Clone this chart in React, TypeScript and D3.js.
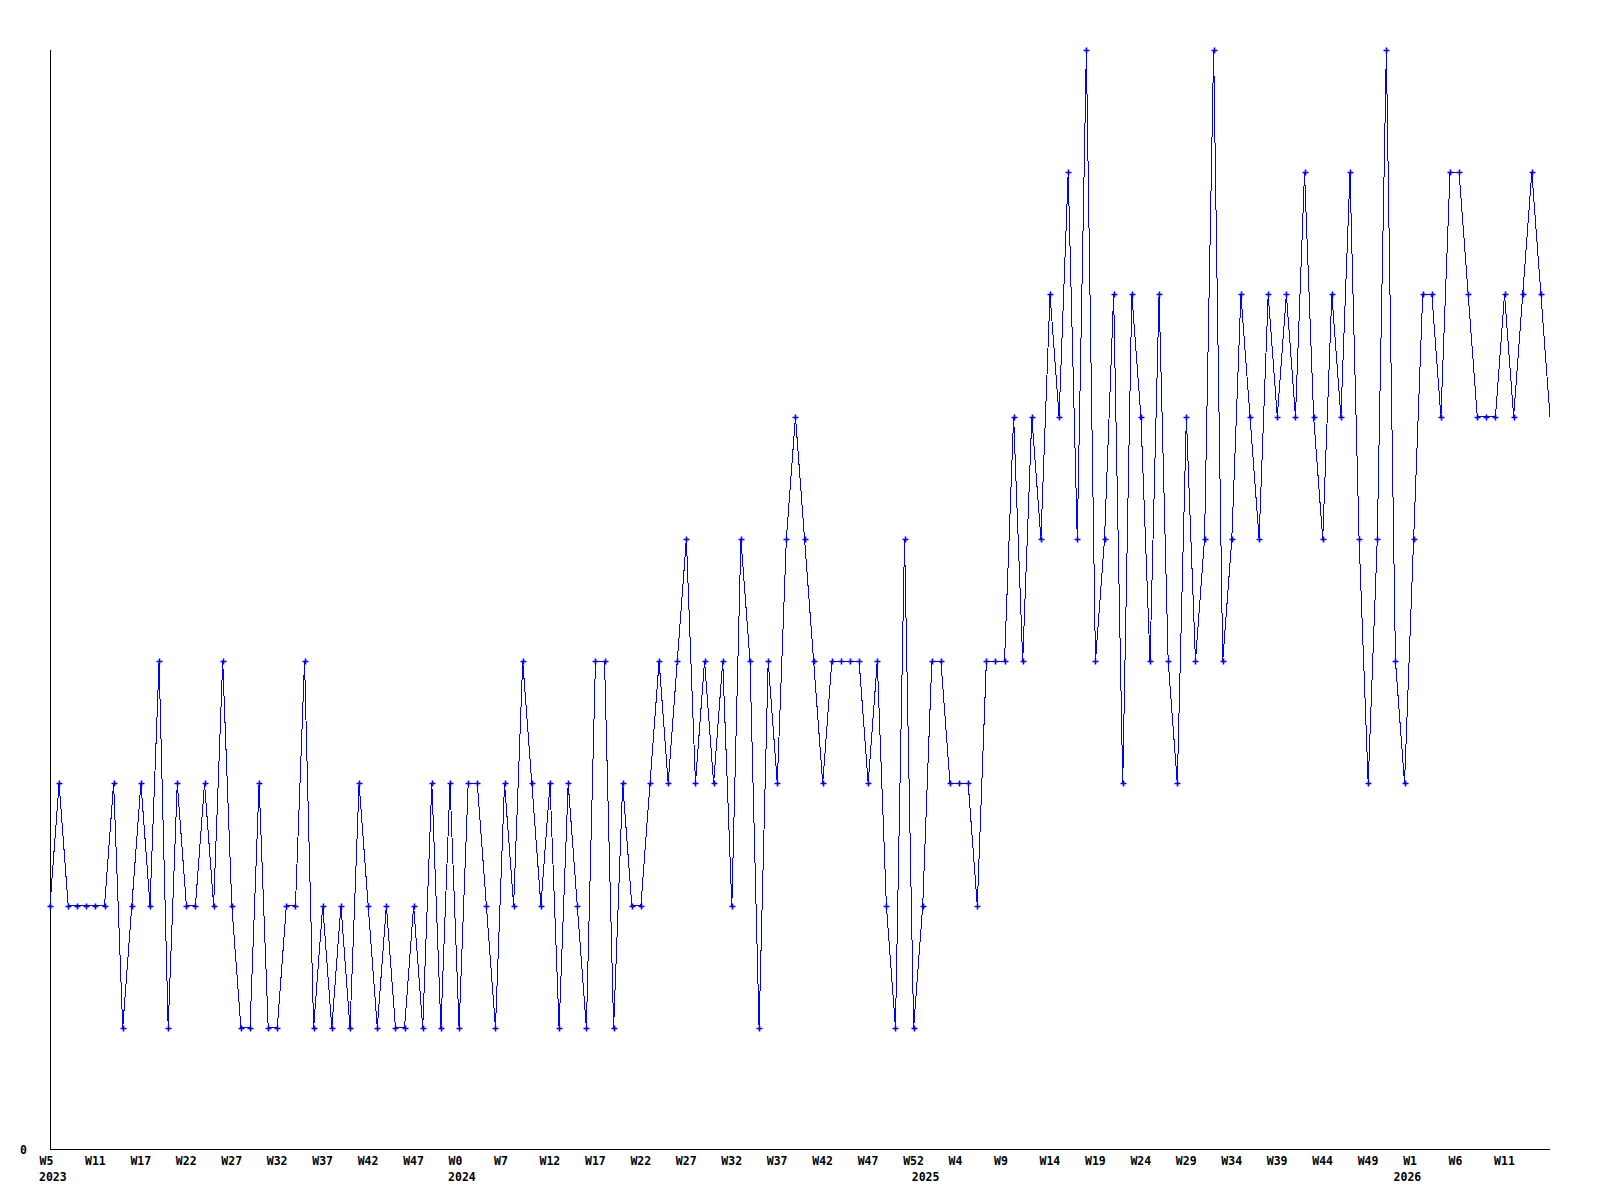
import React from "react";
import * as d3 from "d3";

const values: number[] = [
  2, 3, 2, 2, 2, 2, 2, 3, 1, 2, 3, 2, 4, 1, 3, 2, 2, 3, 2, 4,
  2, 1, 1, 3, 1, 1, 2, 2, 4, 1, 2, 1, 2, 1, 3, 2, 1, 2, 1, 1,
  2, 1, 3, 1, 3, 1, 3, 3, 2, 1, 3, 2, 4, 3, 2, 3, 1, 3, 2, 1,
  4, 4, 1, 3, 2, 2, 3, 4, 3, 4, 5, 3, 4, 3, 4, 2, 5, 4, 1, 4,
  3, 5, 6, 5, 4, 3, 4, 4, 4, 4, 3, 4, 2, 1, 5, 1, 2, 4, 4, 3,
  3, 3, 2, 4, 4, 4, 6, 4, 6, 5, 7, 6, 8, 5, 9, 4, 5, 7, 3, 7,
  6, 4, 7, 4, 3, 6, 4, 5, 9, 4, 5, 7, 6, 5, 7, 6, 7, 6, 8, 6,
  5, 7, 6, 8, 5, 3, 5, 9, 4, 3, 5, 7, 7, 6, 8, 8, 7, 6, 6, 6,
  7, 6, 7, 8, 7, 6,
];

const weekLabels: string[] = [
  "W5", "W11", "W17", "W22", "W27", "W32", "W37", "W42", "W47",
  "W0", "W7", "W12", "W17", "W22", "W27", "W32", "W37", "W42", "W47", "W52",
  "W4", "W9", "W14", "W19", "W24", "W29", "W34", "W39", "W44", "W49",
  "W1", "W6", "W11",
];
const tickStep = 5;

const yearLabels: string[] = ["2023", "2024", "2025", "2026"];
const yearIndices: number[] = [0, 45, 96, 149];

const yMax = 9;

export default function App() {
  const width = 1600;
  const height = 1200;
  const left = 50;
  const right = 1550;
  const top = 50;
  const bottom = 1150;

  const x = d3.scaleLinear().domain([0, values.length - 1]).range([left, right]);
  const y = d3.scaleLinear().domain([0, yMax]).range([bottom, top]);

  const line = d3
    .line<number>()
    .x((_, i) => x(i))
    .y((d) => y(d));

  const font = "'DejaVu Sans Mono', 'Liberation Mono', monospace";

  return (
    <svg
      width={width}
      height={height}
      style={{ position: "absolute", left: 0, top: 0, background: "#fff" }}
    >
      <rect x={0} y={0} width={width} height={height} fill="#fff" />
      {/* axes */}
      <line x1={left + 0.5} y1={top} x2={left + 0.5} y2={bottom} stroke="#000" strokeWidth={1} shapeRendering="crispEdges" />
      <line x1={left} y1={bottom - 0.5} x2={right} y2={bottom - 0.5} stroke="#000" strokeWidth={1} shapeRendering="crispEdges" />

      {/* y label */}
      <text x={27} y={y(0) + 4} textAnchor="end" fontFamily={font} fontWeight="bold" fontSize={11.5} fill="#000">
        0
      </text>

      {/* x tick labels */}
      {weekLabels.map((lab, k) => (
        <text
          key={"w" + k}
          x={x(k * tickStep) - 10.5}
          y={1165}
          textAnchor="start"
          fontFamily={font}
          fontWeight="bold"
          fontSize={11.5}
          fill="#000"
        >
          {lab}
        </text>
      ))}
      {yearLabels.map((lab, k) => (
        <text
          key={"y" + k}
          x={x(yearIndices[k]) - 11}
          y={1181}
          textAnchor="start"
          fontFamily={font}
          fontWeight="bold"
          fontSize={11.5}
          fill="#000"
        >
          {lab}
        </text>
      ))}

      {/* series */}
      <path d={line(values) || ""} fill="none" stroke="#0000ff" strokeWidth={1} shapeRendering="crispEdges" />
      {values.slice(0, values.length - 1).map((v, i) => {
        const cx = Math.round(x(i)) + 0.5;
        const cy = Math.round(y(v)) + 0.5;
        return (
          <path
            key={"m" + i}
            d={`M${cx - 3},${cy}H${cx + 3}M${cx},${cy - 3}V${cy + 3}`}
            stroke="#0000ff"
            strokeWidth={1.6}
            fill="none"
          />
        );
      })}
    </svg>
  );
}
